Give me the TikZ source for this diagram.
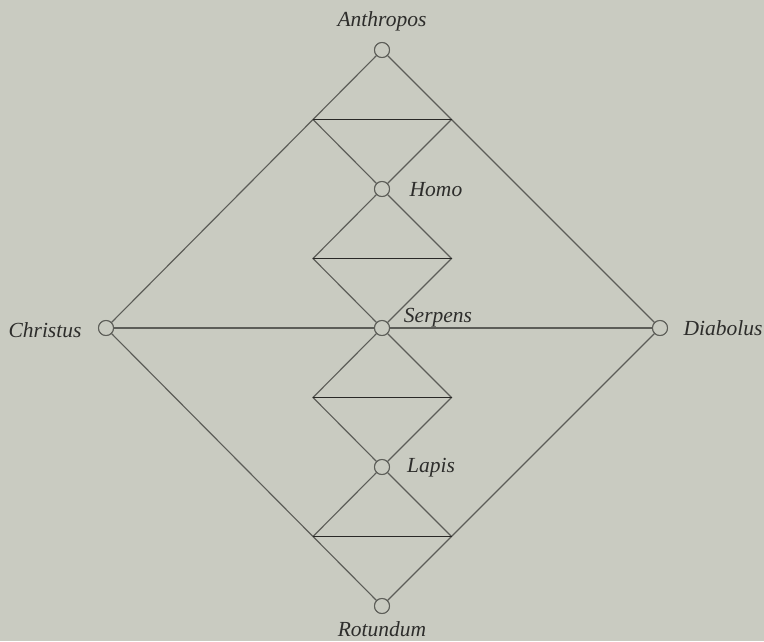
\documentclass[tikz,border=0pt]{standalone}
\usepackage{fontspec}
\setmainfont{Liberation Serif}
\usetikzlibrary{calc}
\definecolor{bg}{RGB}{201,203,193}
\definecolor{linec}{RGB}{92,93,88}
\definecolor{barc}{RGB}{40,40,38}
\definecolor{txtc}{RGB}{45,45,43}
\begin{document}
\begin{tikzpicture}[x=1pt,y=-1pt,
  pt/.style={circle,draw=linec,fill=bg,line width=1pt,minimum size=15pt,inner sep=0pt},
  ln/.style={draw=linec,line width=1.15pt},
  barline/.style={draw=barc,line width=1.4pt},
  lab/.style={font=\fontsize{21.5}{25}\selectfont\itshape,text=txtc,inner sep=0pt}]
\fill[bg] (0,0) rectangle (764,641);
\useasboundingbox (0,0) rectangle (764,641);
% points
\node[pt] (A) at (382,50) {};
\node[pt] (H) at (382,189) {};
\node[pt] (S) at (382,328) {};
\node[pt] (L) at (382,467) {};
\node[pt] (R) at (382,606) {};
\node[pt] (C) at (106,328) {};
\node[pt] (D) at (660,328) {};
% bar ends
\coordinate (b1l) at ($(A.center)!0.25!(C.center)$);
\coordinate (b1r) at ($(A.center)!0.25!(D.center)$);
\coordinate (b4l) at ($(R.center)!0.25!(C.center)$);
\coordinate (b4r) at ($(R.center)!0.25!(D.center)$);
\coordinate (b2l) at (313,258.5);
\coordinate (b2r) at (451.5,258.5);
\coordinate (b3l) at (313,397.5);
\coordinate (b3r) at (451.5,397.5);
% big diamond and horizontal
\draw[ln] (A) -- (C);
\draw[ln] (A) -- (D);
\draw[ln] (R) -- (C);
\draw[ln] (R) -- (D);
\draw[ln] (C) -- (S);
\draw[ln] (S) -- (D);
% inner chain
\draw[ln] (b1l) -- (H);
\draw[ln] (b1r) -- (H);
\draw[ln] (H) -- (b2l) -- (S);
\draw[ln] (H) -- (b2r) -- (S);
\draw[ln] (S) -- (b3l) -- (L);
\draw[ln] (S) -- (b3r) -- (L);
\draw[ln] (L) -- (b4l);
\draw[ln] (L) -- (b4r);
% bars
\draw[barline] (b1l) -- (b1r);
\draw[barline] (b2l) -- (b2r);
\draw[barline] (b3l) -- (b3r);
\draw[barline] (b4l) -- (b4r);
% redraw points on top
\foreach \n in {A,H,S,L,R,C,D} \node[pt] at (\n.center) {};
% labels
\node[lab] (tA) at (382,21) {Anthropos};
\node[lab] (tH) at (436,190) {Homo};
\node[lab] (tS) at (438,318) {Serpens};
\node[lab] (tL) at (431,468) {Lapis};
\node[lab] (tR) at (382,629) {Rotundum};
\node[lab] (tC) at (45,330) {Christus};
\node[lab] (tD) at (723,328) {Diabolus};
\end{tikzpicture}
\end{document}
